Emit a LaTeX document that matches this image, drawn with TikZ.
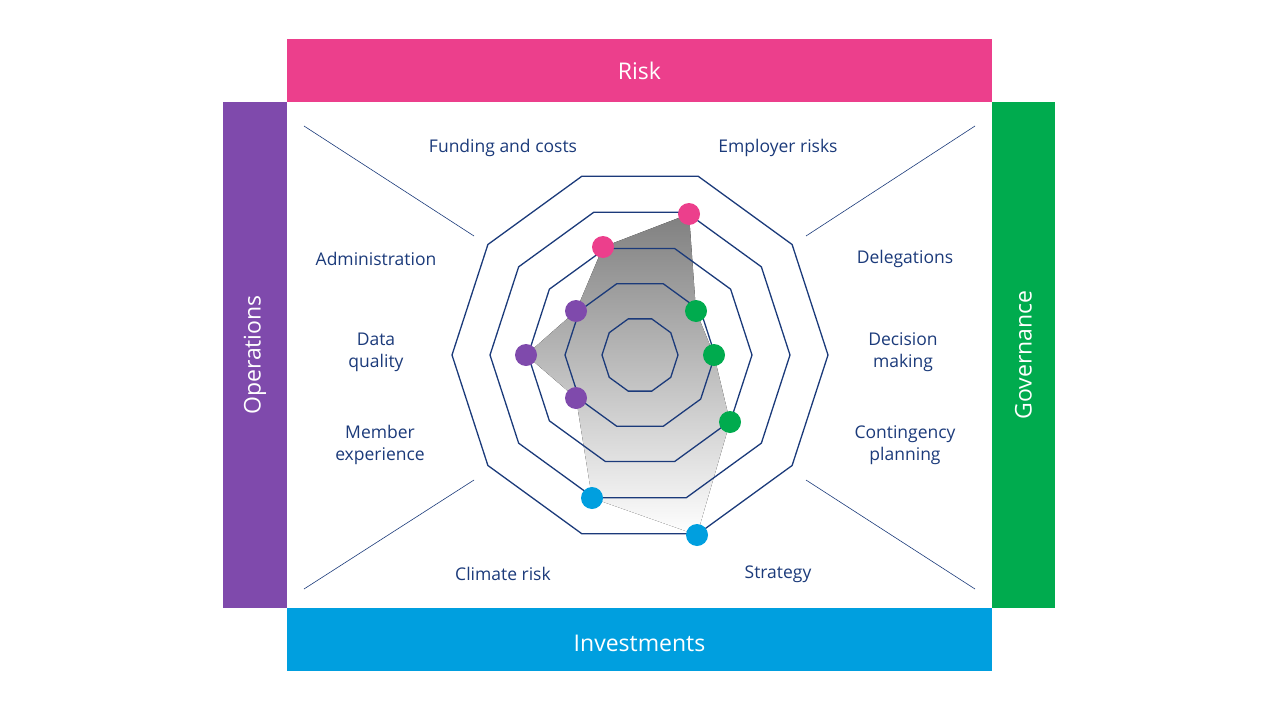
\documentclass[tikz,border=0pt]{standalone}
\usepackage{fontspec}
\setmainfont{Open Sans}
\definecolor{navy}{HTML}{1B3A7A}
\definecolor{rpink}{HTML}{EC3F8C}
\definecolor{opurp}{HTML}{7F4AAC}
\definecolor{ggreen}{HTML}{00AB4E}
\definecolor{iblue}{HTML}{009FDF}
\definecolor{shade}{HTML}{DCDDDF}
\tikzset{lbl/.style={text=navy,font=\fontsize{17.5}{22}\selectfont,align=center},
 band/.style={font=\fontsize{23}{28}\selectfont,text=white},
 dot/.style={circle,minimum size=22,inner sep=0},
 ring/.style={draw=navy,line width=1.3pt},
 diag/.style={draw=navy,line width=0.6pt}}
\begin{document}
\begin{tikzpicture}[x=1pt,y=-1pt]
\useasboundingbox (0,0) rectangle (1280,720);
\fill[rpink] (287,39) rectangle (992,102);
\fill[opurp] (223,102) rectangle (287,608);
\fill[ggreen] (992,102) rectangle (1055,608);
\fill[iblue] (287,608) rectangle (992,671);
\node[band] (risk) at (639.5,70.5) {Risk};
\node[band] (inv) at (639.5,643) {Investments};
\node[band,rotate=90] (ops) at (255,355) {Operations};
\node[band,rotate=90] (gov) at (1023.5,355) {Governance};
\fill[shade] (689,214)--(696,311)--(714,355)--(730,422)--(697,535)--(592,498)--(576,398)--(526,355)--(576,311)--(603,247)--cycle;
\begin{scope}[shift={(640,355)}]
\foreach \r in {38,75,112,150,188}{
 \draw[ring] (0:\r)--(36:\r)--(72:\r)--(108:\r)--(144:\r)--(180:\r)--(216:\r)--(252:\r)--(288:\r)--(324:\r)--cycle;}
\end{scope}
\draw[diag] (304,126)--(474,236);
\draw[diag] (975,126)--(806,236);
\draw[diag] (474,480)--(304,589);
\draw[diag] (806,480)--(975,589);
\node[dot,fill=rpink] (p1) at (689,214) {};
\node[dot,fill=rpink] (p2) at (603,247) {};
\node[dot,fill=ggreen] (g1) at (696,311) {};
\node[dot,fill=ggreen] (g2) at (714,355) {};
\node[dot,fill=ggreen] (g3) at (730,422) {};
\node[dot,fill=iblue] (b1) at (697,535) {};
\node[dot,fill=iblue] (b2) at (592,498) {};
\node[dot,fill=opurp] (o1) at (576,311) {};
\node[dot,fill=opurp] (o2) at (526,355) {};
\node[dot,fill=opurp] (o3) at (576,398) {};
\node[lbl] (l1) at (503,148) {Funding and costs};
\node[lbl] (l2) at (778,148) {Employer risks};
\node[lbl] (l3) at (376,259) {Administration};
\node[lbl] (l4) at (905,259) {Delegations};
\node[lbl] (l5) at (376,352) {Data\\quality};
\node[lbl] (l6) at (903,352) {Decision\\making};
\node[lbl] (l7) at (380,445) {Member\\experience};
\node[lbl] (l8) at (905,445) {Contingency\\planning};
\node[lbl] (l9) at (503,574) {Climate risk};
\node[lbl] (l10) at (778,574) {Strategy};
\end{tikzpicture}
\end{document}
